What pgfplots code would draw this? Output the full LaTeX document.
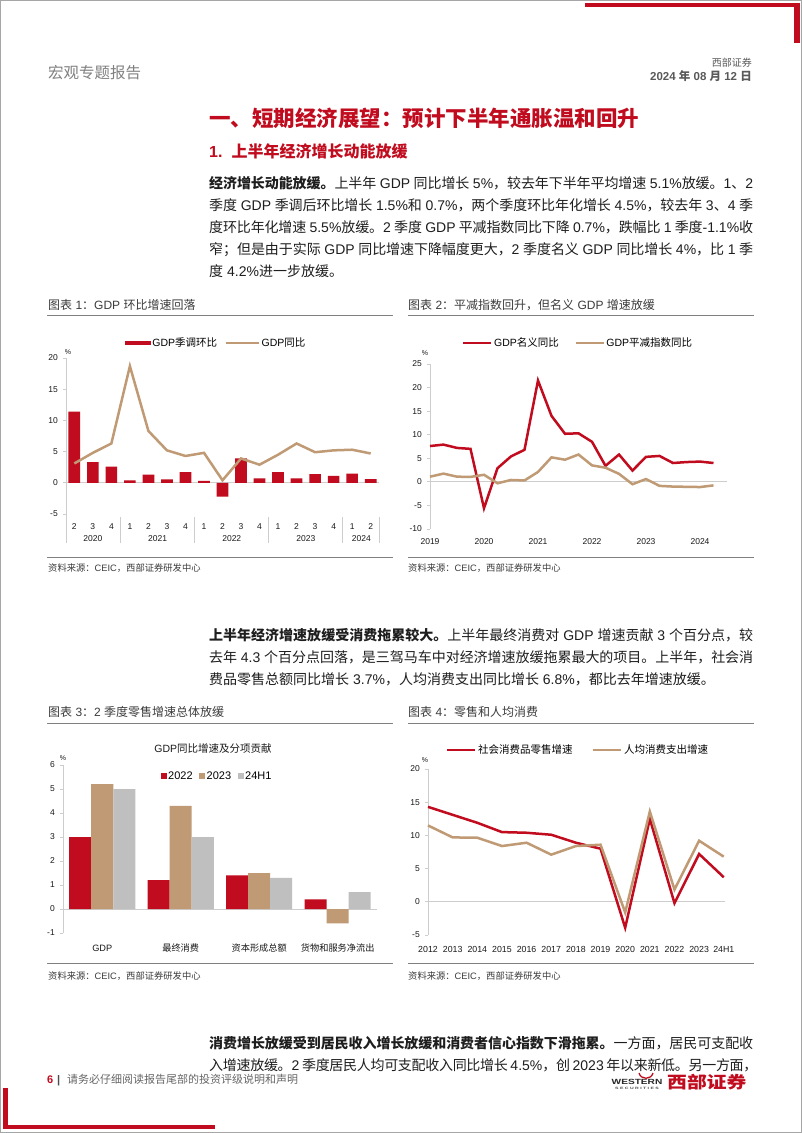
\documentclass[border=0pt]{standalone}
\usepackage{fontspec}
\setmainfont{Liberation Sans}
\newfontfamily\cjk{Noto Sans CJK SC}
\newfontfamily\latin{Liberation Sans}
\usepackage{graphicx}
\usepackage{pgfplots}
\pgfplotsset{compat=1.18}
\definecolor{wred}{RGB}{192,12,30}
\definecolor{wtan}{RGB}{191,154,116}
\definecolor{wgray}{RGB}{191,191,191}
\definecolor{axgray}{RGB}{205,205,205}
\definecolor{bodyc}{RGB}{30,30,30}
\definecolor{titc}{RGB}{60,60,60}
\definecolor{rulec}{RGB}{128,128,128}
\definecolor{tickc}{RGB}{25,25,25}

\XeTeXinterchartokenstate=1
\newXeTeXintercharclass\CJKcls
\newcount\cc
\def\setcls#1#2{\cc=#1\relax\loop\XeTeXcharclass\cc=\CJKcls\advance\cc by 1\relax\ifnum\cc<#2\repeat}
\setcls{"3000}{"3040}
\setcls{"4E00}{"A000}
\setcls{"FF00}{"FFF0}
\XeTeXinterchartoks 0 \CJKcls = {\cjk}
\XeTeXinterchartoks 4095 \CJKcls = {\cjk}
\XeTeXinterchartoks \CJKcls 0 = {\latin}
\XeTeXinterchartoks \CJKcls 4095 = {\latin}
\XeTeXinterchartoks \CJKcls \CJKcls = {\cjk\hskip 0pt plus 0.8pt minus 0.3pt\relax}

\pgfplotsset{
  wbase/.style={scale only axis, clip=false, enlargelimits=false,
    axis lines*=left,
    axis line style={draw=axgray, line width=0.8pt},
    x axis line style={draw=none},
    xtick style={draw=none},
    ytick style={draw=axgray, line width=0.8pt},
    tick align=outside, major tick length=3pt,
    /pgf/number format/assume math mode=true,
    tick label style={font=\fontsize{8.5}{10}\selectfont, text=tickc},
    yticklabel style={inner sep=0pt, xshift=-5pt},
    legend style={draw=none, fill=none, inner sep=0pt,
      font=\fontsize{10.5}{12}\selectfont,
      nodes={inner sep=1.5pt}},
  },
  wline/.style={line width=2.5pt, mark=none,
    legend image code/.code={\draw (0pt,0pt) -- (28pt,0pt);}},
}

\newcommand{\bline}[2]{\node[anchor=base west,inner sep=0pt,font=\fontsize{14}{16}\selectfont,text=bodyc] at (209,-#1) {\hbox to 544pt{#2}};}
\newcommand{\nline}[2]{\node[anchor=base west,inner sep=0pt,font=\fontsize{14}{16}\selectfont,text=bodyc] at (209,-#1) {#2};}

\begin{document}
\begin{tikzpicture}[x=1pt,y=1pt]
\fill[white] (0,0) rectangle (802,-1133);
\draw[gray!70, line width=0.8pt] (0.4,-0.4) rectangle (801.6,-1132.6);
% decorative red bars
\fill[wred] (585,-2.7) rectangle (794,-6.9);
\fill[wred] (794,-2.7) rectangle (799.5,-43);
\fill[wred] (3,-1088) rectangle (8,-1129);
\fill[wred] (3,-1125) rectangle (215,-1129);

% header
\node[anchor=base west,inner sep=0pt,text=black!50] at (48,-78) {\fontsize{15.5}{18}\selectfont 宏观专题报告};
\node[anchor=base east,inner sep=0pt,text=black!65] at (752,-66.5) {\fontsize{10}{12}\selectfont 西部证券};
\node[anchor=base east,inner sep=0pt,text=black!65] at (752,-80.5) {\fontsize{11.5}{13}\selectfont\bfseries 2024 年 08 月 12 日};

% headings
\node[anchor=base west,inner sep=0pt,text=wred] at (209,-126) {\fontsize{21.5}{24}\selectfont\bfseries 一、短期经济展望：预计下半年通胀温和回升};
\node[anchor=base west,inner sep=0pt,text=wred] at (209,-157) {\fontsize{16}{18}\selectfont\bfseries 1.\hspace{9pt}上半年经济增长动能放缓};

% paragraph 1
\bline{188}{{\bfseries 经济增长动能放缓。}上半年 GDP 同比增长 5\%，较去年下半年平均增速 5.1\%放缓。1、2}
\bline{210}{季度 GDP 季调后环比增长 1.5\%和 0.7\%，两个季度环比年化增长 4.5\%，较去年 3、4 季}
\bline{232}{度环比年化增速 5.5\%放缓。2 季度 GDP 平减指数同比下降 0.7\%，跌幅比 1 季度-1.1\%收}
\bline{254}{窄；但是由于实际 GDP 同比增速下降幅度更大，2 季度名义 GDP 同比增长 4\%，比 1 季}
\nline{276}{度 4.2\%进一步放缓。}

% paragraph 2
\bline{640}{{\bfseries 上半年经济增速放缓受消费拖累较大。}上半年最终消费对 GDP 增速贡献 3 个百分点，较}
\bline{662}{去年 4.3 个百分点回落，是三驾马车中对经济增速放缓拖累最大的项目。上半年，社会消}
\nline{684}{费品零售总额同比增长 3.7\%，人均消费支出同比增长 6.8\%，都比去年增速放缓。}

% paragraph 3
\bline{1048}{{\bfseries 消费增长放缓受到居民收入增长放缓和消费者信心指数下滑拖累。}一方面，居民可支配收}
\bline{1070}{入增速放缓。2 季度居民人均可支配收入同比增长 4.5\%，创 2023 年以来新低。另一方面，}

% footer
\node[anchor=base west,inner sep=0pt,text=wred] at (47,-1083) {\fontsize{11}{13}\selectfont\bfseries 6};
\node[anchor=base west,inner sep=0pt,text=black!70] at (57,-1083) {\fontsize{11}{13}\selectfont\bfseries |};
\node[anchor=base west,inner sep=0pt,text=black!60] at (67,-1083) {\fontsize{11}{13}\selectfont 请务必仔细阅读报告尾部的投资评级说明和声明};
% logo
\node[inner sep=0pt,text=black!85] at (637,-1082) {\scalebox{1.35}[1]{\fontsize{7.5}{8}\selectfont\bfseries WESTERN}};
\node[inner sep=0pt,text=black!70] at (637,-1088.5) {\scalebox{1.6}[1]{\fontsize{3.2}{4}\selectfont\bfseries S E C U R I T I E S}};
\draw[wred, line width=1.3pt] (639,-1073) .. controls (641,-1080) and (651,-1080) .. (653,-1073);
\node[anchor=base west,inner sep=0pt,text=wred] at (667,-1088) {\scalebox{1.2}[1]{\fontsize{16.5}{18}\selectfont\bfseries 西部证券}};

% chart titles and rules
\node[anchor=base west,inner sep=0pt,text=titc] at (48,-309.5) {\fontsize{12}{14}\selectfont 图表 1：GDP 环比增速回落};
\node[anchor=base west,inner sep=0pt,text=titc] at (408,-309.5) {\fontsize{12}{14}\selectfont 图表 2：平减指数回升，但名义 GDP 增速放缓};
\node[anchor=base west,inner sep=0pt,text=titc] at (48,-716.5) {\fontsize{12}{14}\selectfont 图表 3：2 季度零售增速总体放缓};
\node[anchor=base west,inner sep=0pt,text=titc] at (408,-716.5) {\fontsize{12}{14}\selectfont 图表 4：零售和人均消费};
\draw[rulec, line width=1pt] (47,-315) -- (393,-315);
\draw[rulec, line width=1pt] (408,-315) -- (754,-315);
\draw[rulec, line width=1pt] (47,-557) -- (393,-557);
\draw[rulec, line width=1pt] (408,-557) -- (754,-557);
\draw[rulec, line width=1pt] (47,-723) -- (393,-723);
\draw[rulec, line width=1pt] (408,-723) -- (754,-723);
\draw[rulec, line width=1pt] (47,-963) -- (393,-963);
\draw[rulec, line width=1pt] (408,-963) -- (754,-963);
\node[anchor=base west,inner sep=0pt,text=titc] at (48,-571.5) {\fontsize{9.3}{11}\selectfont 资料来源：CEIC，西部证券研发中心};
\node[anchor=base west,inner sep=0pt,text=titc] at (408,-571.5) {\fontsize{9.3}{11}\selectfont 资料来源：CEIC，西部证券研发中心};
\node[anchor=base west,inner sep=0pt,text=titc] at (48,-979.5) {\fontsize{9.3}{11}\selectfont 资料来源：CEIC，西部证券研发中心};
\node[anchor=base west,inner sep=0pt,text=titc] at (408,-979.5) {\fontsize{9.3}{11}\selectfont 资料来源：CEIC，西部证券研发中心};

% percent signs
\node[inner sep=0pt,text=tickc] at (68,-352) {\fontsize{7}{8}\selectfont \%};
\node[inner sep=0pt,text=tickc] at (425,-353) {\fontsize{7}{8}\selectfont \%};
\node[inner sep=0pt,text=tickc] at (63,-758) {\fontsize{7}{8}\selectfont \%};
\node[inner sep=0pt,text=tickc] at (425,-760) {\fontsize{7}{8}\selectfont \%};

% ---------- Chart 1 ----------
\begin{axis}[wbase, at={(66pt,-543pt)}, anchor=south west,
  width=313pt, height=185pt,
  xmin=-0.45, xmax=16.45, ymin=-9.65, ymax=20,
  ytick={-5,0,5,10,15,20},
  xtick={0,...,16}, xticklabels={2,3,4,1,2,3,4,1,2,3,4,1,2,3,4,1,2},
  xticklabel style={anchor=center, yshift=19pt},
  legend columns=2,
  legend style={at={(0.479,1.081)}, anchor=center,
    /tikz/every even column/.append style={column sep=6pt}},
]
\addplot[axgray, line width=0.8pt, forget plot] coordinates {(-0.45,0) (16.45,0)};
\addplot[ybar, bar width=11.7pt, bar shift=0pt, fill=wred, draw=none,
  legend image code/.code={\fill (0pt,-2.3pt) rectangle (26pt,2.3pt);}]
  coordinates {(0,11.4) (1,3.3) (2,2.6) (3,0.4) (4,1.3) (5,0.55) (6,1.7) (7,0.3) (8,-2.2) (9,3.9) (10,0.7) (11,1.7) (12,0.7) (13,1.4) (14,1.1) (15,1.45) (16,0.6)};
\addlegendentry{GDP季调环比}
\addplot[wline, wtan, legend image code/.code={\draw (0pt,0pt) -- (33pt,0pt);}]
  coordinates {(0,3.1) (1,4.8) (2,6.3) (3,18.7) (4,8.3) (5,5.2) (6,4.3) (7,4.8) (8,0.4) (9,3.9) (10,2.9) (11,4.5) (12,6.3) (13,4.9) (14,5.2) (15,5.3) (16,4.7)};
\addlegendentry{GDP同比}
\draw[axgray, line width=0.8pt] (axis cs:2.5,-5.48) -- (axis cs:2.5,-9.65);
\draw[axgray, line width=0.8pt] (axis cs:6.5,-5.48) -- (axis cs:6.5,-9.65);
\draw[axgray, line width=0.8pt] (axis cs:10.5,-5.48) -- (axis cs:10.5,-9.65);
\draw[axgray, line width=0.8pt] (axis cs:14.5,-5.48) -- (axis cs:14.5,-9.65);
\draw[axgray, line width=0.8pt] (axis cs:16.45,-5.48) -- (axis cs:16.45,-9.65);
\node[font=\fontsize{8.5}{10}\selectfont, text=tickc] at (axis cs:1,-9.0) {2020};
\node[font=\fontsize{8.5}{10}\selectfont, text=tickc] at (axis cs:4.5,-9.0) {2021};
\node[font=\fontsize{8.5}{10}\selectfont, text=tickc] at (axis cs:8.5,-9.0) {2022};
\node[font=\fontsize{8.5}{10}\selectfont, text=tickc] at (axis cs:12.5,-9.0) {2023};
\node[font=\fontsize{8.5}{10}\selectfont, text=tickc] at (axis cs:15.5,-9.0) {2024};
\end{axis}

% ---------- Chart 2 ----------
\begin{axis}[wbase, at={(430pt,-529pt)}, anchor=south west,
  width=297pt, height=165pt,
  xmin=0, xmax=22, ymin=-10, ymax=25,
  ytick={-10,-5,0,5,10,15,20,25},
  xtick={0,4,8,12,16,20}, xticklabels={2019,2020,2021,2022,2023,2024},
  xticklabel style={anchor=center, yshift=-10pt},
  legend columns=2,
  legend style={at={(0.498,1.127)}, anchor=center,
    /tikz/every even column/.append style={column sep=14pt}},
]
\addplot[axgray, line width=0.8pt, forget plot] coordinates {(0,0) (22,0)};
\addplot[wline, wred] coordinates {(0,7.6) (1,7.9) (2,7.2) (3,7.0) (4,-5.6) (5,2.9) (6,5.4) (7,6.8) (8,21.5) (9,14.0) (10,10.2) (11,10.3) (12,8.5) (13,3.4) (14,5.8) (15,2.4) (16,5.3) (17,5.5) (18,4.0) (19,4.2) (20,4.3) (21,4.0)};
\addlegendentry{GDP名义同比}
\addplot[wline, wtan] coordinates {(0,1.1) (1,1.75) (2,1.1) (3,1.05) (4,1.5) (5,-0.3) (6,0.4) (7,0.3) (8,2.1) (9,5.2) (10,4.7) (11,5.8) (12,3.5) (13,3.0) (14,1.7) (15,-0.5) (16,0.6) (17,-0.85) (18,-1.0) (19,-1.05) (20,-1.1) (21,-0.75)};
\addlegendentry{GDP平减指数同比}
\end{axis}

% ---------- Chart 3 ----------
\node[inner sep=0pt,text=tickc] at (213,-749) {\fontsize{10.5}{12}\selectfont GDP同比增速及分项贡献};
\begin{axis}[wbase, at={(63pt,-933pt)}, anchor=south west,
  width=314pt, height=168pt,
  xmin=-0.5, xmax=3.5, ymin=-1, ymax=6,
  ytick={-1,0,...,6},
  xtick={0,1,2,3}, xticklabels={GDP,最终消费,资本形成总额,货物和服务净流出},
  xticklabel style={anchor=center, yshift=-12pt, font=\fontsize{9.2}{11}\selectfont},
  legend columns=3,
  legend style={at={(0.49,0.935)}, anchor=center, font=\fontsize{11}{13}\selectfont,
    /tikz/every even column/.append style={column sep=5pt}},
]
\addplot[axgray, line width=0.8pt, forget plot] coordinates {(-0.5,0) (3.5,0)};
\addplot[ybar, bar width=22pt, bar shift=-22pt, fill=wred, draw=none,
  legend image code/.code={\fill (0pt,-3pt) rectangle (6pt,3pt);}]
  coordinates {(0,3.0) (1,1.2) (2,1.4) (3,0.4)};
\addlegendentry{2022}
\addplot[ybar, bar width=22pt, bar shift=0pt, fill=wtan, draw=none,
  legend image code/.code={\fill (0pt,-3pt) rectangle (6pt,3pt);}]
  coordinates {(0,5.2) (1,4.3) (2,1.5) (3,-0.6)};
\addlegendentry{2023}
\addplot[ybar, bar width=22pt, bar shift=22pt, fill=wgray, draw=none,
  legend image code/.code={\fill (0pt,-3pt) rectangle (6pt,3pt);}]
  coordinates {(0,5.0) (1,3.0) (2,1.3) (3,0.7)};
\addlegendentry{24H1}
\end{axis}

% ---------- Chart 4 ----------
\begin{axis}[wbase, at={(428pt,-935pt)}, anchor=south west,
  width=297pt, height=166pt,
  xmin=0, xmax=12.05, ymin=-5, ymax=20,
  ytick={-5,0,5,10,15,20},
  xtick={0,...,12}, xticklabels={2012,2013,2014,2015,2016,2017,2018,2019,2020,2021,2022,2023,24H1},
  xticklabel style={anchor=center, yshift=-11pt, font=\fontsize{8.8}{10}\selectfont},
  legend columns=2,
  legend style={at={(0.505,1.114)}, anchor=center,
    /tikz/every even column/.append style={column sep=18pt}},
]
\addplot[axgray, line width=0.8pt, forget plot] coordinates {(0,0) (12.05,0)};
\addplot[wline, wred] coordinates {(0,14.3) (1,13.1) (2,11.9) (3,10.5) (4,10.4) (5,10.1) (6,8.9) (7,8.0) (8,-3.9) (9,12.5) (10,-0.2) (11,7.2) (12,3.7)};
\addlegendentry{社会消费品零售增速}
\addplot[wline, wtan] coordinates {(0,11.5) (1,9.7) (2,9.65) (3,8.4) (4,8.9) (5,7.1) (6,8.4) (7,8.6) (8,-1.6) (9,13.6) (10,1.85) (11,9.2) (12,6.8)};
\addlegendentry{人均消费支出增速}
\end{axis}
\end{tikzpicture}
\end{document}
